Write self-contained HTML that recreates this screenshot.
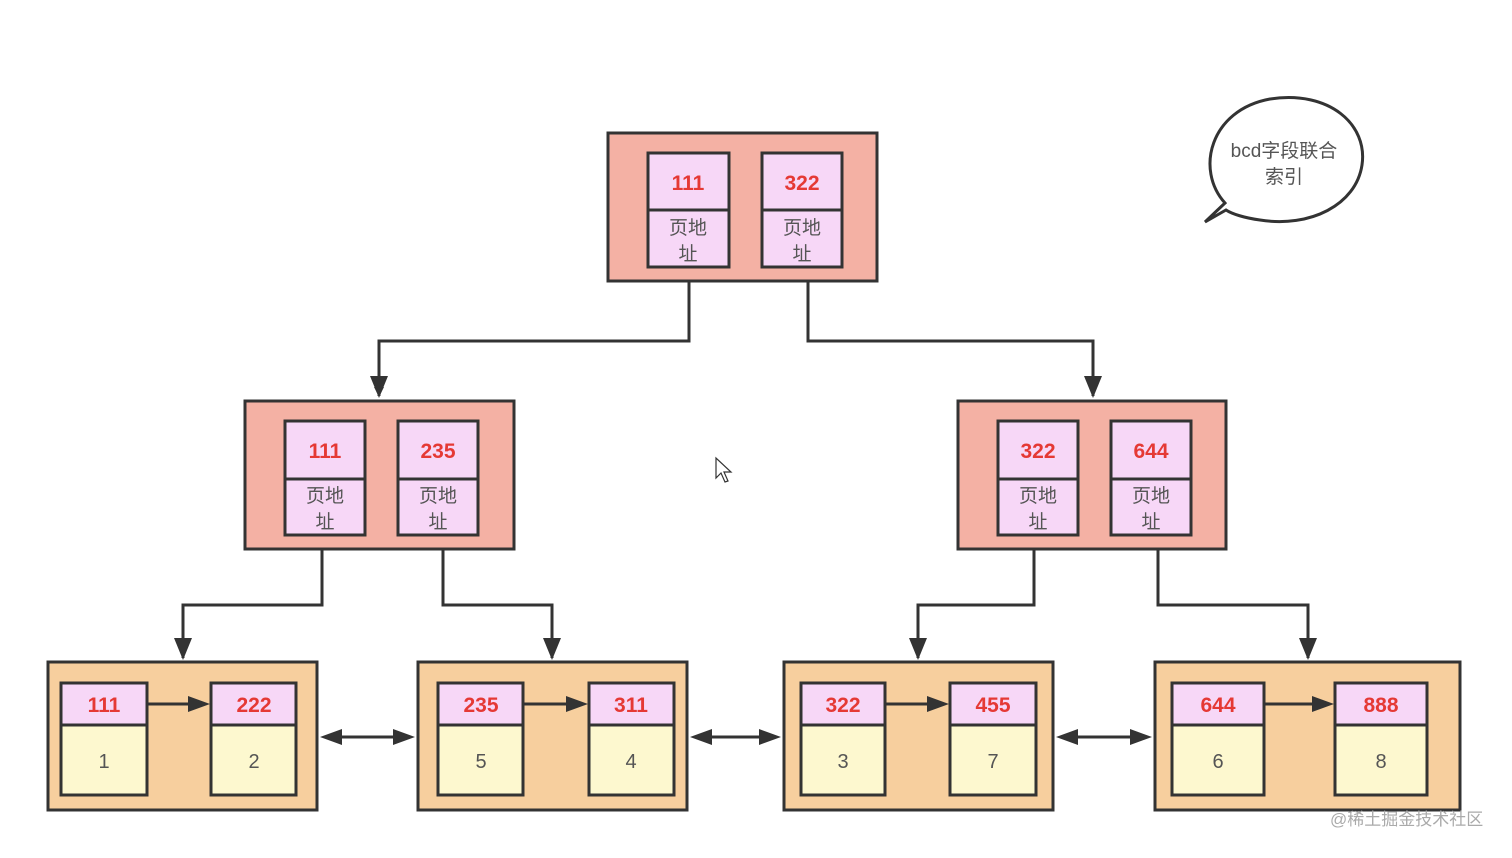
<!DOCTYPE html>
<html><head><meta charset="utf-8"><style>
html,body{margin:0;padding:0;background:#fff;}
text{font-family:"Liberation Sans","Noto Sans CJK SC",sans-serif;}
.k{fill:#e53935;font-weight:bold;font-size:21px;text-anchor:middle;}
.a{fill:#555;font-size:19px;text-anchor:middle;}
.n{fill:#555;font-size:20px;text-anchor:middle;}
</style></head><body>
<svg width="1512" height="853" viewBox="0 0 1512 853" xmlns="http://www.w3.org/2000/svg">
<defs>
<marker id="ar" markerWidth="10" markerHeight="10" refX="9" refY="5" orient="auto" markerUnits="userSpaceOnUse" viewBox="0 0 10 10"><path d="M0,0 L10,5 L0,10 z" fill="#333"/></marker>
</defs>
<g fill="none" stroke="#333" stroke-width="3">
<path d="M689,281 V341 H379 V396" marker-end="url(#ar)" style="marker-end:url(#ar)"/>
<path d="M808,281 V341 H1093 V396"/>
<path d="M322,549 V605 H183 V658"/>
<path d="M443,549 V605 H552 V658"/>
<path d="M1034,549 V605 H918 V658"/>
<path d="M1158,549 V605 H1308 V658"/>
</g>
<g fill="#333">
<path d="M370,376 L388,376 L379,398 z"/>
<path d="M1084,376 L1102,376 L1093,398 z"/>
<path d="M174,638 L192,638 L183,660 z"/>
<path d="M543,638 L561,638 L552,660 z"/>
<path d="M909,638 L927,638 L918,660 z"/>
<path d="M1299,638 L1317,638 L1308,660 z"/>
</g>
<!-- internal nodes -->
<g stroke="#333" stroke-width="3">
<rect x="608" y="133" width="269" height="148" fill="#f4b1a4"/>
<rect x="245" y="401" width="269" height="148" fill="#f4b1a4"/>
<rect x="958" y="401" width="268" height="148" fill="#f4b1a4"/>
<g fill="#f7d7f7">
<rect x="648" y="153" width="81" height="114"/><line x1="648" y1="210" x2="729" y2="210"/>
<rect x="762" y="153" width="80" height="114"/><line x1="762" y1="210" x2="842" y2="210"/>
<rect x="285" y="421" width="80" height="114"/><line x1="285" y1="479" x2="365" y2="479"/>
<rect x="398" y="421" width="80" height="114"/><line x1="398" y1="479" x2="478" y2="479"/>
<rect x="998" y="421" width="80" height="114"/><line x1="998" y1="479" x2="1078" y2="479"/>
<rect x="1111" y="421" width="80" height="114"/><line x1="1111" y1="479" x2="1191" y2="479"/>
</g>
</g>
<g>
<text class="k" x="688" y="190">111</text><text class="k" x="802" y="190">322</text>
<text class="a" x="688" y="234">页地</text><text class="a" x="688" y="260">址</text>
<text class="a" x="802" y="234">页地</text><text class="a" x="802" y="260">址</text>
<text class="k" x="325" y="458">111</text><text class="k" x="438" y="458">235</text>
<text class="a" x="325" y="502">页地</text><text class="a" x="325" y="528">址</text>
<text class="a" x="438" y="502">页地</text><text class="a" x="438" y="528">址</text>
<text class="k" x="1038" y="458">322</text><text class="k" x="1151" y="458">644</text>
<text class="a" x="1038" y="502">页地</text><text class="a" x="1038" y="528">址</text>
<text class="a" x="1151" y="502">页地</text><text class="a" x="1151" y="528">址</text>
</g>
<!-- leaves -->
<g stroke="#333" stroke-width="3">
<rect x="48" y="662" width="269" height="148" fill="#f7cf9e"/>
<rect x="418" y="662" width="269" height="148" fill="#f7cf9e"/>
<rect x="784" y="662" width="269" height="148" fill="#f7cf9e"/>
<rect x="1155" y="662" width="305" height="148" fill="#f7cf9e"/>
<g>
<rect x="61" y="683" width="86" height="112" fill="#fdf8cf"/><rect x="61" y="683" width="86" height="42" fill="#f7d7f7"/>
<rect x="211" y="683" width="85" height="112" fill="#fdf8cf"/><rect x="211" y="683" width="85" height="42" fill="#f7d7f7"/>
<rect x="438" y="683" width="85" height="112" fill="#fdf8cf"/><rect x="438" y="683" width="85" height="42" fill="#f7d7f7"/>
<rect x="589" y="683" width="85" height="112" fill="#fdf8cf"/><rect x="589" y="683" width="85" height="42" fill="#f7d7f7"/>
<rect x="801" y="683" width="84" height="112" fill="#fdf8cf"/><rect x="801" y="683" width="84" height="42" fill="#f7d7f7"/>
<rect x="950" y="683" width="86" height="112" fill="#fdf8cf"/><rect x="950" y="683" width="86" height="42" fill="#f7d7f7"/>
<rect x="1172" y="683" width="92" height="112" fill="#fdf8cf"/><rect x="1172" y="683" width="92" height="42" fill="#f7d7f7"/>
<rect x="1335" y="683" width="92" height="112" fill="#fdf8cf"/><rect x="1335" y="683" width="92" height="42" fill="#f7d7f7"/>
</g>
<g fill="none">
<line x1="147" y1="704" x2="192" y2="704"/><line x1="523" y1="704" x2="570" y2="704"/>
<line x1="885" y1="704" x2="931" y2="704"/><line x1="1264" y1="704" x2="1316" y2="704"/>
<line x1="336" y1="737" x2="399" y2="737"/><line x1="706" y1="737" x2="765" y2="737"/><line x1="1072" y1="737" x2="1136" y2="737"/>
</g>
</g>
<g fill="#333">
<path d="M188,696 L210,704 L188,712 z"/><path d="M566,696 L588,704 L566,712 z"/>
<path d="M927,696 L949,704 L927,712 z"/><path d="M1312,696 L1334,704 L1312,712 z"/>
<path d="M320,737 L342,729 L342,745 z"/><path d="M415,737 L393,729 L393,745 z"/>
<path d="M690,737 L712,729 L712,745 z"/><path d="M781,737 L759,729 L759,745 z"/>
<path d="M1056,737 L1078,729 L1078,745 z"/><path d="M1152,737 L1130,729 L1130,745 z"/>
</g>
<g>
<text class="k" x="104" y="712">111</text><text class="k" x="254" y="712">222</text>
<text class="k" x="481" y="712">235</text><text class="k" x="631" y="712">311</text>
<text class="k" x="843" y="712">322</text><text class="k" x="993" y="712">455</text>
<text class="k" x="1218" y="712">644</text><text class="k" x="1381" y="712">888</text>
<text class="n" x="104" y="768">1</text><text class="n" x="254" y="768">2</text>
<text class="n" x="481" y="768">5</text><text class="n" x="631" y="768">4</text>
<text class="n" x="843" y="768">3</text><text class="n" x="993" y="768">7</text>
<text class="n" x="1218" y="768">6</text><text class="n" x="1381" y="768">8</text>
</g>
<!-- bubble -->
<path d="M1225,203 C1195,170 1210,110 1270,99 C1330,90 1368,125 1362,165 C1356,205 1310,228 1260,220 C1245,218 1232,214 1226,210 L1205,222 Z" fill="#fff" stroke="#333" stroke-width="3"/>
<text x="1284" y="157" font-size="19" fill="#555" text-anchor="middle">bcd字段联合</text>
<text x="1284" y="183" font-size="19" fill="#555" text-anchor="middle">索引</text>
<!-- cursor -->
<path d="M716,458 L716,478 L721,473 L725,482 L728,481 L724,472 L731,472 Z" fill="#fff" stroke="#333" stroke-width="1.2"/>
<text x="1330" y="825" font-size="17" fill="#aaa">@稀土掘金技术社区</text>
</svg>
</body></html>
